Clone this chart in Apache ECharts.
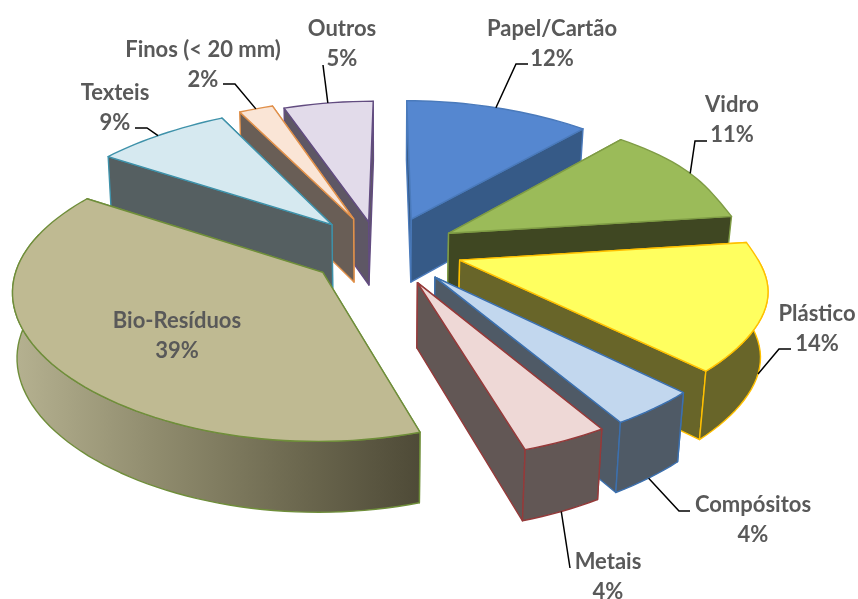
<!DOCTYPE html>
<html><head><meta charset="utf-8">
<style>html,body{margin:0;padding:0;background:#fff}#c{width:858px;height:599px}</style>
<script src="https://cdn.jsdelivr.net/npm/echarts@6/dist/echarts.min.js"></script>
</head><body><div id="c"></div>
<script>
const categories = ['Papel/Cartão','Vidro','Plástico','Compósitos','Metais','Bio-Resíduos','Texteis','Finos (< 20 mm)','Outros'];
const percents = [12,11,14,4,4,39,9,2,5];

// Styling and layout (not data)
const topColors  = ['#5587D0','#9BBB59','#FFFF5F','#C2D7EE','#EED8D6','#BFBA92','#D6E9F0','#FAE5D6','#E2DBEA'];
const wallColors = ['#365A87','#3F4722','#686529','#4F5A66','#625755',null,'#555F61','#695E56','#5E5765'];
const edgeColors = ['#4A7ABB','#7F9C45','#FFC000','#3C70AE','#953A3A','#6F8E3A','#3F92AA','#E0904A','#624C80'];
const explodeU = [0.07,0.19,0.22,0.14,0.085,-0.21,-0.19,-0.12,-0.07];
const explodeV = [-0.22,-0.12,0.06,0.17,0.205,0.14,-0.18,-0.22,-0.2];
const radiusScale = [0.985,0.99,0.975,0.985,0.985,0.96,0.98,1,1];
const paintRank = [3,4,5,6,7,8,2,1,0];
const labelX = [552,732,817,753,608,177,115,203,342];
const labelY = [44,120,329,520,577,336,108,65,44];
const leaderElbows = [
  [[528,64],[516,64]], [[707,141],[695,141]], [[791,349],[779,349]], [[690,511],[679,511]],
  [[570,568]], [], [[135,128],[147,128]], [[223,84],[235,84]], [[323,65]]
];
const leaderOnBottom = [false,false,true,true,true,false,false,false,false];
const CX = 390, START = 0;

function proj(u,v){
  return [CX + u*(314+45*v-14*v*v), 251+150*v+21*v*v];
}
function drop(p){
  const k = p[0]<CX ? 0.988 : 0.98;
  return [CX+(p[0]-CX)*k, p[1]+63+(p[1]-217)*0.035];
}
function warp(d){
  return d>300 ? d-4*Math.sin((d-300)/60*Math.PI) : d;
}
function flatten(d){
  const t=(d-80)/18;
  return 1-0.045*Math.exp(-t*t);
}
const total = percents.reduce((a,b)=>a+b,0);

function renderItem(params, api){
  const i = params.dataIndex, val = api.value(0);
  let before = 0; for(let k=0;k<i;k++) before += percents[k];
  const a0 = START + before/total*360, a1 = a0 + val/total*360;
  const eu = explodeU[i], ev = explodeV[i], R = radiusScale[i];
  const pt = d => { const r=warp(d)*Math.PI/180, q=R*flatten(d); return proj(eu+q*Math.sin(r), ev-q*Math.cos(r)); };
  const rim=[]; const n=Math.max(2,Math.ceil((a1-a0)/2));
  for(let k=0;k<=n;k++) rim.push(pt(a0+(a1-a0)*k/n));
  const apex = proj(eu,ev);
  const base = paintRank[i]*10;
  const lw = 1.4, edge = edgeColors[i];
  const wall = wallColors[i] || new echarts.graphic.LinearGradient(0,0,1,0,[
    {offset:0,color:'#B6B291'},{offset:0.35,color:'#908C6E'},{offset:0.7,color:'#6C684F'},{offset:1,color:'#4E4A37'}]);
  const poly = (pts,fill,z) => ({type:'polygon',shape:{points:pts},z2:base+z,
     style:{fill:fill,stroke:edge,lineWidth:lw,lineJoin:'round'}});
  const onLeft = (a0+a1)/2>180;
  const children = [
    poly([apex,rim[0],drop(rim[0]),drop(apex)],wall,onLeft?1:0),
    poly([apex,rim[n],drop(rim[n]),drop(apex)],wall,onLeft?0:1),
    poly([apex].concat(rim),topColors[i],3)
  ];
  const f0=Math.max(a0,90), f1=Math.min(a1,285);
  if(f1>f0){
    const front=[]; const m=Math.max(2,Math.ceil((f1-f0)/2));
    for(let k=0;k<=m;k++) front.push(pt(f0+(f1-f0)*k/m));
    children.push(poly(front.concat(front.map(drop).reverse()),wall,2));
  }
  const elbows = leaderElbows[i];
  if(elbows.length){
    const mid = pt((a0+a1)/2);
    const end = leaderOnBottom[i] ? drop(mid) : mid;
    children.push({type:'polyline',shape:{points:elbows.concat([end])},z2:900,
      style:{fill:null,stroke:'#000',lineWidth:1.5}});
  }
  children.push({type:'text',x:labelX[i],y:labelY[i],z2:1000,style:{
    text:categories[i]+'\n'+val+'%',fill:'#595959',font:'700 22px Lato',lineHeight:30,
    align:'center',verticalAlign:'middle'}});
  return {type:'group',children};
}
const chart = echarts.init(document.getElementById('c'),null,{renderer:'canvas'});
chart.setOption({
  animation:false,
  backgroundColor:'#fff',
  series:[{type:'custom',coordinateSystem:'none',silent:true,renderItem,
    data:percents.map((v,i)=>({name:categories[i],value:[v,i]}))}]
});
</script></body></html>
